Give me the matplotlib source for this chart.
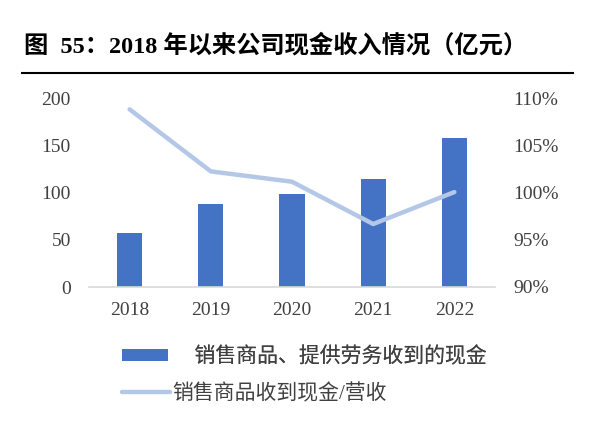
import matplotlib
matplotlib.use("Agg")
import matplotlib.pyplot as plt
from matplotlib.patches import Patch
from matplotlib.lines import Line2D
from matplotlib.ticker import FuncFormatter

plt.rcParams['font.family'] = ['Liberation Serif', 'Noto Sans CJK SC', 'DejaVu Sans']

years = ['2018', '2019', '2020', '2021', '2022']
cash_received = [57, 88.6, 99.3, 114.6, 158.2]      # 亿元
cash_ratio = [108.9, 102.3, 101.2, 96.7, 100.1]     # %
left_ticks = [0, 50, 100, 150, 200]
right_ticks = [90, 95, 100, 105, 110]

bar_label = '销售商品、提供劳务收到的现金'
line_label = '销售商品收到现金/营收'
title = '图  55：2018 年以来公司现金收入情况（亿元）'

BAR = '#4472C4'
LINE = '#B4C7E7'
TXT = '#404040'

fig = plt.figure(figsize=(5.91, 4.30), dpi=100)
ax = fig.add_axes([89/591, 143/430, 406/591, 188/430])
x = list(range(len(years)))
ax.bar(x, cash_received, width=0.31, color=BAR, zorder=2)
ax.set_xlim(-0.5, len(years) - 0.5)
ax.set_ylim(0, 200)
ax.set_yticks(left_ticks)
ax.set_xticks(x)
ax.set_xticklabels(years)
for s in ['top', 'right', 'left']:
    ax.spines[s].set_visible(False)
ax.spines['bottom'].set_color('#D9D9D9')
ax.spines['bottom'].set_linewidth(1.2)
ax.tick_params(axis='both', length=0, labelsize=14, labelcolor=TXT)
ax.tick_params(axis='y', pad=13)
ax.tick_params(axis='x', pad=11)

ax2 = ax.twinx()
ax2.plot(x, cash_ratio, color=LINE, lw=3.2, solid_capstyle='round', solid_joinstyle='round', zorder=3)
ax2.set_ylim(90, 110)
ax2.set_yticks(right_ticks)
ax2.yaxis.set_major_formatter(FuncFormatter(lambda v, p: f'{v:.0f}%'))
for s in ['top', 'right', 'left', 'bottom']:
    ax2.spines[s].set_visible(False)
ax2.tick_params(axis='y', length=0, labelsize=14, labelcolor=TXT, pad=13)

# title and rule
fig.text(24/591, 1 - 46/430, title, fontsize=17.5, fontweight='bold', color='black',
         ha='left', va='center')
fig.add_artist(Line2D([22/591, 573/591], [1 - 73/430, 1 - 73/430], color='black', lw=1.5))

# legends
leg1 = fig.legend(handles=[Patch(facecolor=BAR, edgecolor='none')], labels=['  ' + bar_label],
                  loc='center left', bbox_to_anchor=(122/591, 1 - 357/430), frameon=False,
                  fontsize=15, handlelength=2.2, handleheight=0.48, handletextpad=0.8,
                  borderpad=0, borderaxespad=0, labelcolor=TXT)
fig.add_artist(leg1)
leg2 = fig.legend(handles=[Line2D([0], [0], color=LINE, lw=3.2, solid_capstyle='round')],
                  labels=[line_label],
                  loc='center left', bbox_to_anchor=(122/591, 1 - 394/430), frameon=False,
                  fontsize=15, handlelength=2.3, handletextpad=0.1,
                  borderpad=0, borderaxespad=0, labelcolor=TXT)

fig.savefig('out.png', dpi=100)
